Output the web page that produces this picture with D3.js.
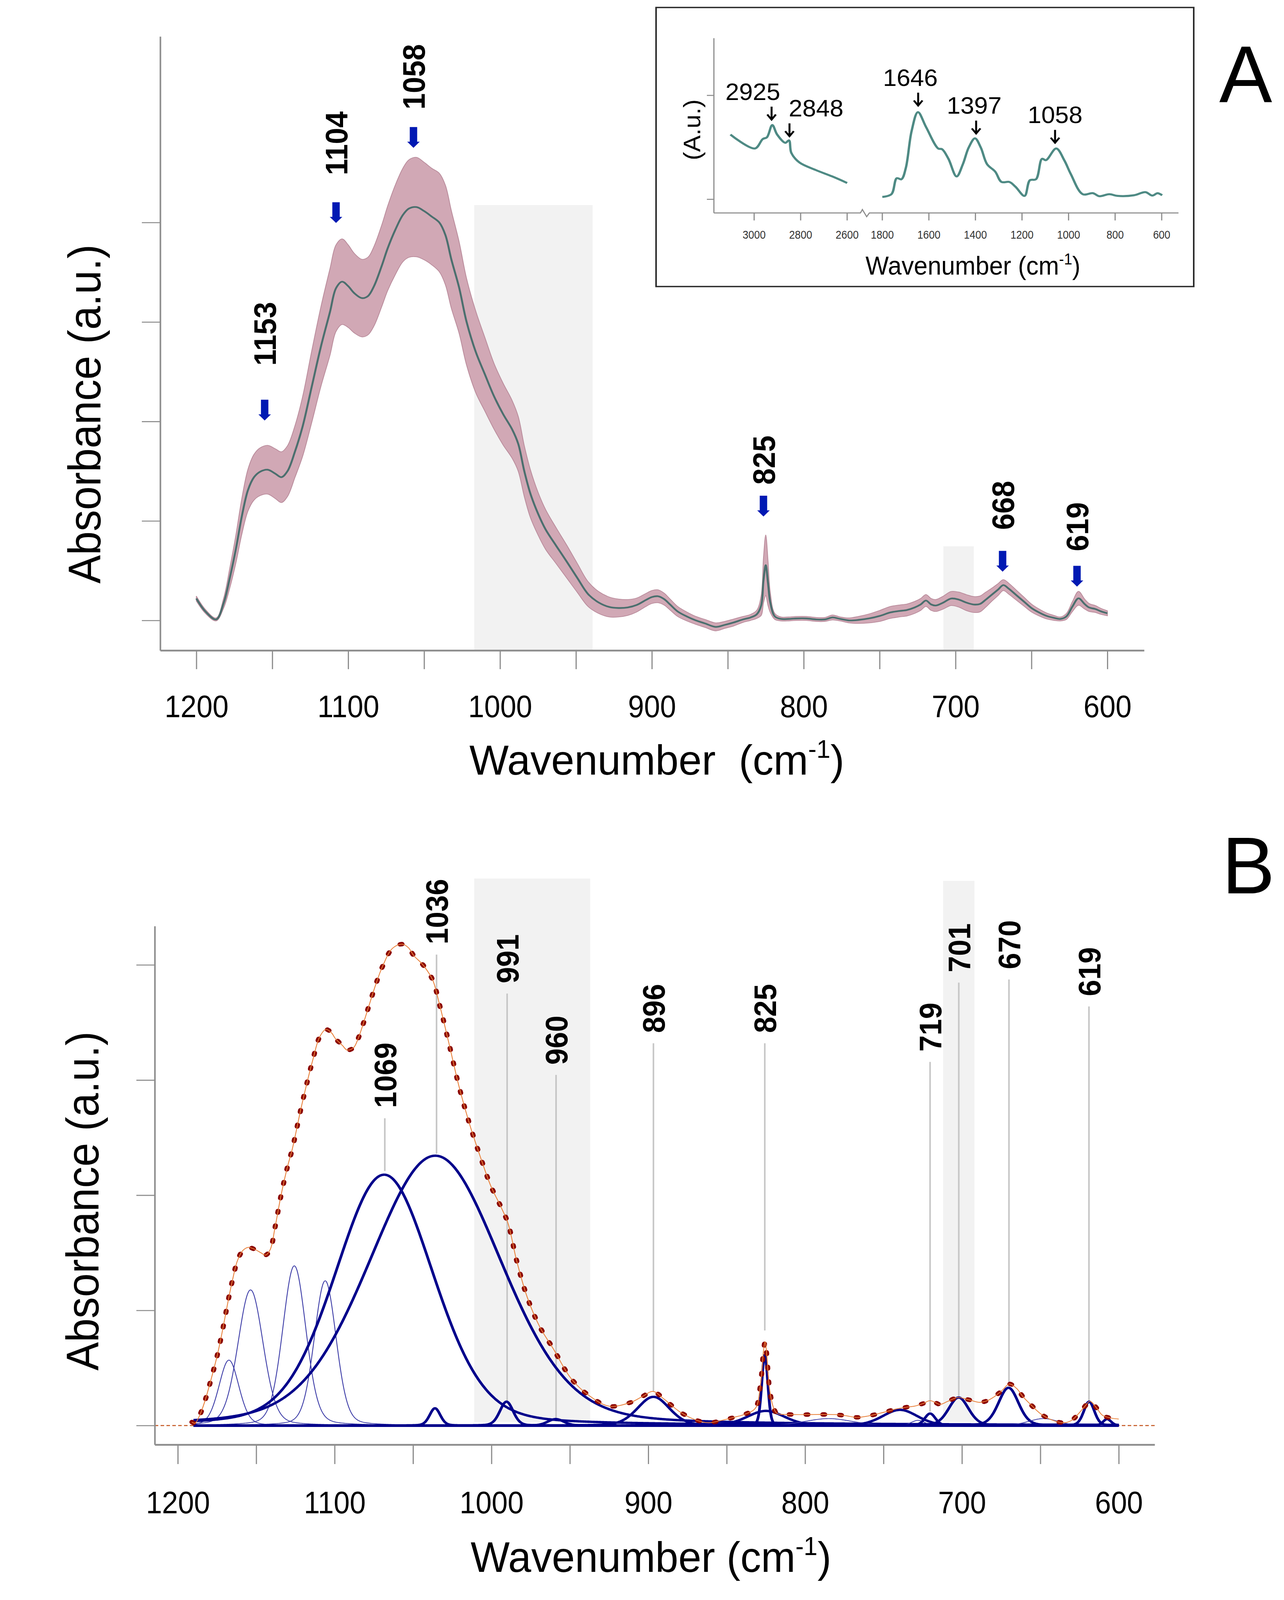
<!DOCTYPE html>
<html>
<head>
<meta charset="utf-8">
<script src="https://cdn.jsdelivr.net/npm/d3@7"></script>
<style>
  html, body { margin: 0; padding: 0; background: #fff; overflow: hidden; }
  svg { display: block; width: 100vw; height: 100vh; }
  svg text { font-family: "Liberation Sans", Arial, Helvetica, sans-serif; }
</style>
</head>
<body>
<svg id="fig" viewBox="0 0 3286 4696" preserveAspectRatio="none"></svg>
<script>
// ---------- panel A : mean spectrum with spread ----------
const waveA = [1200, 1194, 1187, 1182, 1178, 1174, 1170, 1166, 1162, 1158,
  1153, 1148, 1144, 1140, 1135, 1130, 1124, 1118, 1112, 1108,
  1104, 1100, 1096, 1091, 1087, 1083, 1078, 1074, 1069, 1064,
  1060, 1055, 1050, 1045, 1040, 1036, 1032, 1027, 1022, 1016,
  1010, 1004, 998, 992, 988, 984, 980, 975, 970, 963,
  956, 949, 942, 935, 928, 922, 916, 910, 904, 900,
  896, 892, 888, 883, 877, 871, 865, 858, 852, 846,
  840, 835, 831, 828, 826.5, 825, 823.5, 822, 819, 815,
  810, 805, 798, 792, 786, 781, 776, 770, 764, 757,
  750, 743, 737, 732, 727, 723, 719.5, 716, 713, 708,
  703, 698, 693, 688, 684, 680, 676, 672, 668.5, 665,
  660, 655, 650, 645, 640, 635, 631, 627, 623, 619,
  615, 612, 608, 604, 600];
const meanA = [0.044, 0.018, 0.002, 0.035, 0.085, 0.143, 0.21, 0.262, 0.288, 0.299,
  0.303, 0.295, 0.288, 0.30, 0.34, 0.39, 0.47, 0.55, 0.62, 0.668,
  0.681, 0.672, 0.658, 0.648, 0.652, 0.672, 0.712, 0.748, 0.785, 0.815,
  0.828, 0.831, 0.823, 0.812, 0.80, 0.775, 0.725, 0.67, 0.60, 0.54,
  0.495, 0.451, 0.415, 0.384, 0.355, 0.30, 0.255, 0.215, 0.183, 0.15,
  0.118, 0.085, 0.053, 0.036, 0.027, 0.025, 0.026, 0.031, 0.041, 0.047,
  0.0486, 0.043, 0.032, 0.018, 0.008, 0.0, -0.006, -0.013, -0.009, -0.004,
  0.002, 0.006, 0.012, 0.03, 0.08, 0.111, 0.075, 0.036, 0.008, 0.003,
  0.003, 0.004, 0.004, 0.002, 0.002, 0.006, 0.003, 0.0, 0.001, 0.004,
  0.009, 0.016, 0.019, 0.021, 0.026, 0.032, 0.04, 0.032, 0.03, 0.036,
  0.044, 0.042, 0.036, 0.032, 0.033, 0.042, 0.052, 0.062, 0.071, 0.064,
  0.051, 0.038, 0.025, 0.016, 0.009, 0.005, 0.003, 0.008, 0.028, 0.0445,
  0.033, 0.026, 0.023, 0.018, 0.0144];
const spreadA = [0.005, 0.004, 0.003, 0.01, 0.02, 0.028, 0.036, 0.042, 0.046, 0.048,
  0.049, 0.05, 0.051, 0.051, 0.052, 0.06, 0.072, 0.08, 0.087, 0.087,
  0.086, 0.083, 0.08, 0.078, 0.078, 0.08, 0.082, 0.085, 0.09, 0.094,
  0.098, 0.1, 0.098, 0.097, 0.099, 0.1, 0.098, 0.092, 0.087, 0.082,
  0.074, 0.066, 0.062, 0.058, 0.055, 0.051, 0.048, 0.043, 0.04, 0.036,
  0.033, 0.029, 0.025, 0.022, 0.02, 0.018, 0.016, 0.014, 0.013, 0.013,
  0.013, 0.012, 0.011, 0.01, 0.009, 0.008, 0.008, 0.008, 0.007, 0.007,
  0.006, 0.006, 0.008, 0.02, 0.045, 0.061, 0.045, 0.02, 0.006, 0.004,
  0.004, 0.004, 0.004, 0.004, 0.004, 0.005, 0.004, 0.005, 0.007, 0.009,
  0.011, 0.012, 0.012, 0.012, 0.012, 0.012, 0.012, 0.012, 0.012, 0.013,
  0.014, 0.015, 0.016, 0.016, 0.016, 0.015, 0.013, 0.012, 0.011, 0.011,
  0.01, 0.009, 0.008, 0.007, 0.006, 0.005, 0.004, 0.006, 0.01, 0.014,
  0.01, 0.008, 0.007, 0.006, 0.005];

const peakLabelA = ["1153", "1104", "1058", "825", "668", "619"];
const peakWaveA  = [1155, 1108, 1057, 826.5, 669, 620];
const arrowTipA  = [0.402, 0.799, 0.95, 0.209, 0.098, 0.068];
const labelBaseA = [0.512, 0.895, 1.027, 0.273, 0.182, 0.139];

const shadeFrom = [1017, 708];
const shadeTo   = [939, 688];
const shadeTopA = [0.835, 0.149];
const shadeFromB = [1011, 712];
const shadeToB   = [937, 692];
const shadeTopB  = [4.75, 4.73];

const tickWaves = d3.range(600, 1201, 50);
const tickLevelsA = [0, 0.2, 0.4, 0.6, 0.8];
const tickLevelsB = [0, 1, 2, 3, 4];

// ---------- inset : full range spectrum ----------
const insetHiWave = [3102, 2997, 2963, 2945, 2922, 2901, 2866, 2850, 2840, 2805, 2735, 2664, 2600];
const insetHiVal  = [0.623, 0.489, 0.58, 0.597, 0.715, 0.623, 0.544, 0.567, 0.446, 0.354, 0.282, 0.22, 0.157];
const insetLoWave = [1800, 1761, 1738, 1718, 1699, 1674, 1647, 1612, 1560, 1543,
  1516, 1481, 1454, 1429, 1402, 1377, 1350, 1315, 1288, 1254,
  1228, 1189, 1166, 1140, 1114, 1097, 1053, 1018, 991, 939,
  895, 868, 825, 790, 719, 670, 640, 618, 598];
const insetLoVal  = [0.023, 0.049, 0.203, 0.193, 0.302, 0.659, 0.839, 0.695, 0.489, 0.482,
  0.39, 0.22, 0.338, 0.498, 0.587, 0.498, 0.338, 0.266, 0.167, 0.167,
  0.121, 0.033, 0.184, 0.193, 0.39, 0.377, 0.489, 0.374, 0.246, 0.049,
  0.059, 0.03, 0.049, 0.033, 0.039, 0.069, 0.036, 0.059, 0.039];
const insetPeakWave = [2925, 2848, 1646, 1397, 1058];
const insetArrowEnd = [0.767, 0.607, 0.902, 0.633, 0.544];
const insetLabelShift = [-48, 68, -20, -5, 0];
const insetTicksHi = [3000, 2800, 2600];
const insetTicksLo = [1800, 1600, 1400, 1200, 1000, 800, 600];

// ---------- panel B : band fitting ----------
const waveB = [1191, 1189, 1186, 1183, 1179, 1175, 1172, 1167.5, 1165, 1162,
  1158.5, 1155, 1151, 1147, 1144, 1141, 1138, 1134, 1130, 1127,
  1121, 1114, 1109.5, 1105.5, 1102, 1099.5, 1095, 1092, 1088, 1085,
  1081, 1078, 1074, 1069.5, 1063, 1057, 1053, 1049.5, 1045, 1042.8,
  1037.5, 1033, 1027.3, 1020.6, 1014, 1007, 1000.4, 994, 989.4, 984,
  977.2, 969.3, 960.5, 949.3, 938, 925, 911.4, 904, 897, 890,
  880, 870, 861.6, 853, 845.4, 838, 831.7, 828.5, 826.5, 825.5,
  824.5, 822.5, 820, 817.8, 810, 800, 790, 781, 774, 767,
  760, 753, 747, 741.7, 735, 730.3, 725, 720.3, 717, 714,
  709, 702.6, 696, 688.7, 684, 679.5, 674, 669.8, 665, 661,
  656, 650, 643, 634.6, 630, 626.6, 622, 618.4, 614, 610.4,
  605, 600];
const envB = [0.03, 0.02, 0.09, 0.2, 0.39, 0.6, 0.79, 1.11, 1.27, 1.43,
  1.52, 1.547, 1.53, 1.5, 1.48, 1.53, 1.72, 2.01, 2.25, 2.40,
  2.78, 3.17, 3.375, 3.44, 3.41, 3.36, 3.3, 3.26, 3.28, 3.36,
  3.52, 3.65, 3.82, 3.985, 4.145, 4.18, 4.15, 4.08, 4.02, 3.985,
  3.87, 3.65, 3.33, 2.94, 2.62, 2.33, 2.08, 1.90, 1.755, 1.435,
  1.115, 0.86, 0.665, 0.41, 0.263, 0.168, 0.20, 0.25, 0.296, 0.23,
  0.12, 0.05, 0.024, 0.045, 0.071, 0.1, 0.15, 0.35, 0.65, 0.728,
  0.62, 0.3, 0.15, 0.104, 0.096, 0.095, 0.096, 0.095, 0.085, 0.071,
  0.082, 0.104, 0.125, 0.145, 0.16, 0.168, 0.19, 0.216, 0.2, 0.183,
  0.21, 0.243, 0.225, 0.201, 0.215, 0.249, 0.31, 0.361, 0.32, 0.249,
  0.18, 0.104, 0.05, 0.024, 0.045, 0.089, 0.16, 0.21, 0.15, 0.089,
  0.065, 0.056];

// fitted bands: centre, height, full width at half maximum
const bandCenter = [1167.4, 1153.6, 1125.7, 1106, 1068.4, 1035.8, 1036, 990.4, 959, 896.7,
  825.7, 825, 785, 739.5, 728, 720.3, 702.1, 670.3, 648, 618.9, 607.4];
const bandHeight = [0.568, 1.178, 1.387, 1.257, 2.178, 2.343, 0.15, 0.207, 0.056, 0.249,
  0.618, 0.127, 0.06, 0.136, 0.045, 0.104, 0.243, 0.328, 0.06, 0.207, 0.056];
const bandFwhm   = [15, 19, 17.5, 16.5, 74, 100, 8, 10, 12, 24,
  4.5, 28, 35, 26, 10, 8, 15, 15, 22, 8, 6];
const bandFine   = [true, true, true, true, false, false, false, false, false, false,
  false, false, true, false, true, false, false, false, true, false, false];
const LORENTZ_MIX = 0.2;

const peakLabelB = ["1069", "1036", "991", "960", "896", "825", "719", "701", "670", "619"];
const peakWaveB  = [1068, 1035, 990, 958.8, 896.7, 825.7, 720.3, 702, 670, 619];
const labelBaseB = [2.757, 4.178, 3.84, 3.133, 3.408, 3.408, 3.246, 3.935, 3.962, 3.728];
const leaderEndB = [2.21, 2.36, 0.216, 0.056, 0.296, 0.825, 0.12, 0.25, 0.376, 0.216];

// ---------------------------------------------------------------
const svg = d3.select("#fig");
const AXIS_GREY = "#8c8c8c";

function addText(g, x, y, str, o) {
  return g.append("text")
    .attr("transform", `translate(${x},${y}) rotate(${o.rotate || 0}) scale(${o.sx || 1},1)`)
    .attr("text-anchor", o.anchor || "middle")
    .attr("dy", o.dy || 0)
    .attr("font-size", o.size)
    .attr("font-weight", o.weight || "normal")
    .attr("fill", o.fill || "#000")
    .text(str);
}

function waveTitle(g, x, y, size, sx, gap) {
  const t = g.append("text")
    .attr("transform", `translate(${x},${y}) scale(${sx},1)`)
    .attr("text-anchor", "middle")
    .attr("font-size", size)
    .style("white-space", "pre");
  t.append("tspan").text("Wavenumber" + gap + "(cm");
  t.append("tspan").attr("font-size", size * 0.6).attr("dy", -size * 0.4).text("-1");
  t.append("tspan").attr("dy", size * 0.4).text(")");
}

function bottomAxis(g, x, y0, size, pad, fontSize) {
  const ax = g.append("g")
    .attr("transform", `translate(0,${y0})`)
    .call(d3.axisBottom(x).tickValues(tickWaves)
      .tickFormat(d => d % 100 === 0 ? d : "")
      .tickSize(size).tickSizeOuter(0).tickPadding(pad));
  ax.select(".domain").attr("stroke", AXIS_GREY).attr("stroke-width", 5);
  ax.selectAll(".tick line").attr("stroke", AXIS_GREY).attr("stroke-width", 3);
  ax.selectAll(".tick text")
    .attr("font-size", fontSize).attr("fill", "#000")
    .attr("transform", "scale(0.8,1)");
  ax.attr("font-family", null).attr("font-size", null);
}

function leftAxis(g, y, x0, levels) {
  const ax = g.append("g")
    .attr("transform", `translate(${x0},0)`)
    .call(d3.axisLeft(y).tickValues(levels).tickFormat("").tickSize(47).tickSizeOuter(0));
  ax.select(".domain").attr("stroke", AXIS_GREY).attr("stroke-width", 4);
  ax.selectAll(".tick line").attr("stroke", AXIS_GREY).attr("stroke-width", 3);
}

// ================= panel A =================
const xA = d3.scaleLinear().domain([1223.8, 575.8]).range([410, 2928]);
const yA = d3.scaleLinear().domain([-0.0603, 1.174]).range([1909, 107]);
const gA = svg.append("g");

gA.selectAll("rect.shade").data(shadeFrom).join("rect")
  .attr("x", d => xA(d))
  .attr("width", (d, i) => xA(shadeTo[i]) - xA(d))
  .attr("y", (d, i) => yA(shadeTopA[i]))
  .attr("height", (d, i) => yA.range()[0] - yA(shadeTopA[i]))
  .attr("fill", "#f2f2f2");

const specA = waveA.map((w, i) => ({ w, m: meanA[i], s: spreadA[i] }));
gA.append("path").datum(specA)
  .attr("d", d3.area().curve(d3.curveCatmullRom.alpha(0.5))
    .x(d => xA(d.w)).y0(d => yA(d.m - d.s)).y1(d => yA(d.m + d.s)))
  .attr("fill", "#d1a8b5").attr("stroke", "#b98b9b").attr("stroke-width", 2);
gA.append("path").datum(specA)
  .attr("d", d3.line().curve(d3.curveCatmullRom.alpha(0.5)).x(d => xA(d.w)).y(d => yA(d.m)))
  .attr("fill", "none").attr("stroke", "#4b6f6e").attr("stroke-width", 5);

bottomAxis(gA, xA, 1909, 55, 76, 92);
leftAxis(gA, yA, 410, tickLevelsA);

// blue arrows and rotated labels
peakWaveA.forEach((w, i) => {
  const x = xA(w), tip = yA(arrowTipA[i]);
  gA.append("path")
    .attr("d", "M0,0 L-16,-18 L-9.5,-18 L-9.5,-61 L9.5,-61 L9.5,-18 L16,-18 Z")
    .attr("transform", `translate(${x},${tip})`)
    .attr("fill", "#0019b3");
  addText(gA, x, yA(labelBaseA[i]), peakLabelA[i],
    { rotate: -90, sx: 1.08, anchor: "start", dy: "0.36em", size: 80, weight: "bold" });
});

waveTitle(gA, 1681, 2274, 124, 0.86, "  ");
addText(gA, 215, 1215, "Absorbance (a.u.)", { rotate: -90, sx: 1.08, dy: "0.36em", size: 116 });
addText(gA, 3188, 300, "A", { size: 236, sx: 0.86 });

// ================= inset =================
const gI = svg.append("g");
gI.append("rect").attr("x", 1679).attr("y", 22).attr("width", 1376).attr("height", 819)
  .attr("fill", "#fff").attr("stroke", "#2b2b2b").attr("stroke-width", 4);

const iHi = d3.scaleLinear().domain([3000, 2600]).range([1930, 2168]);
const iLo = d3.scaleLinear().domain([1800, 600]).range([2258, 2973]);
const iY = d3.scaleLinear().domain([0, 1]).range([585, 280]);
const iBase = 625;

gI.append("line").attr("x1", 1827).attr("x2", 1827).attr("y1", 112).attr("y2", iBase)
  .attr("stroke", AXIS_GREY).attr("stroke-width", 3);
gI.selectAll("line.ytick").data([0, 1]).join("line")
  .attr("x1", 1809).attr("x2", 1827).attr("y1", d => iY(d)).attr("y2", d => iY(d))
  .attr("stroke", AXIS_GREY).attr("stroke-width", 3);
gI.append("path")
  .attr("d", `M1827,${iBase} H2202 L2207,${iBase - 10} L2218,${iBase + 11} L2225,${iBase} H3016`)
  .attr("fill", "none").attr("stroke", AXIS_GREY).attr("stroke-width", 3);

const insetTicks = insetTicksHi.map(v => ({ v, x: iHi(v) }))
  .concat(insetTicksLo.map(v => ({ v, x: iLo(v) })));
gI.selectAll("line.xtick").data(insetTicks).join("line")
  .attr("x1", d => d.x).attr("x2", d => d.x).attr("y1", iBase).attr("y2", iBase + 22)
  .attr("stroke", AXIS_GREY).attr("stroke-width", 3);
insetTicks.forEach(d => addText(gI, d.x, 700, String(d.v), { size: 34, sx: 0.78, fill: "#333" }));

const insetLine = d3.line().curve(d3.curveCatmullRom.alpha(0.5));
gI.append("path")
  .attr("d", insetLine(insetHiWave.map((w, i) => [iHi(w), iY(insetHiVal[i])])))
  .attr("fill", "none").attr("stroke", "#4e8a84").attr("stroke-width", 6).attr("stroke-linejoin", "round");
gI.append("path")
  .attr("d", insetLine(insetLoWave.map((w, i) => [iLo(w), iY(insetLoVal[i])])))
  .attr("fill", "none").attr("stroke", "#4e8a84").attr("stroke-width", 6).attr("stroke-linejoin", "round");

insetPeakWave.forEach((w, i) => {
  const x = w > 2000 ? iHi(w) : iLo(w);
  const end = iY(insetArrowEnd[i]);
  gI.append("path")
    .attr("d", `M${x},${end - 38} V${end} M${x - 11},${end - 15} L${x},${end} L${x + 11},${end - 15}`)
    .attr("fill", "none").attr("stroke", "#000").attr("stroke-width", 5);
  addText(gI, x + insetLabelShift[i], end - 58, String(w), { size: 70, sx: 0.9 });
});

waveTitle(gI, 2490, 806, 76, 0.83, " ");
addText(gI, 1770, 381, "(A.u.)", { rotate: -90, sx: 1.18, dy: "0.36em", size: 62 });

// ================= panel B =================
const xB = d3.scaleLinear().domain([1214.7, 577.1]).range([396, 2955]);
const yB = d3.scaleLinear().domain([-0.166, 4.337]).range([4240, 2718]);
const gB = svg.append("g");

gB.selectAll("rect.shade").data(shadeFromB).join("rect")
  .attr("x", d => xB(d))
  .attr("width", (d, i) => xB(shadeToB[i]) - xB(d))
  .attr("y", (d, i) => yB(shadeTopB[i]))
  .attr("height", (d, i) => yB(0.03) - yB(shadeTopB[i]))
  .attr("fill", "#f2f2f2");

// leader lines
peakWaveB.forEach((w, i) => {
  gB.append("line")
    .attr("x1", xB(w)).attr("x2", xB(w))
    .attr("y1", yB(labelBaseB[i]) + 30).attr("y2", yB(leaderEndB[i]))
    .attr("stroke", "#c6c6c6").attr("stroke-width", 4);
});

// dashed zero line
gB.append("line")
  .attr("x1", xB.range()[0]).attr("x2", xB.range()[1]).attr("y1", yB(0)).attr("y2", yB(0))
  .attr("stroke", "#c8602e").attr("stroke-width", 3).attr("stroke-dasharray", "9 6");

function bandShape(x, c, h, fwhm) {
  const t = (x - c) / (fwhm / 2);
  return h * ((1 - LORENTZ_MIX) * Math.exp(-Math.LN2 * t * t) + LORENTZ_MIX / (1 + t * t));
}
const grid = d3.range(1190, 599.9, -0.5);
const bandLine = d3.line().x(d => xB(d[0])).y(d => yB(d[1]));
bandCenter.forEach((c, i) => {
  const pts = grid.map(x => [x, bandShape(x, c, bandHeight[i], bandFwhm[i])]);
  gB.append("path").attr("d", bandLine(pts))
    .attr("fill", "none")
    .attr("stroke", bandFine[i] ? "#3a3aa6" : "#00008b")
    .attr("stroke-width", bandFine[i] ? 2.2 : 7)
    .attr("stroke-linejoin", "round");
});

// envelope: dark red dots with a thin orange fit line
const envLine = d3.line().curve(d3.curveCatmullRom.alpha(0.5))
  .x((d, i) => xB(waveB[i])).y(d => yB(d));
gB.append("path").datum(envB).attr("d", envLine)
  .attr("fill", "none").attr("stroke", "#8b0000").attr("stroke-width", 13)
  .attr("stroke-linecap", "round").attr("stroke-dasharray", "5 38");
gB.append("path").datum(envB).attr("d", envLine)
  .attr("fill", "none").attr("stroke", "#e8803a").attr("stroke-width", 2.2);

bottomAxis(gB, xB, 4240, 57, 79, 92);
leftAxis(gB, yB, 396, tickLevelsB);

peakWaveB.forEach((w, i) => {
  addText(gB, xB(w), yB(labelBaseB[i]), peakLabelB[i],
    { rotate: -90, sx: 1.08, anchor: "start", dy: "0.36em", size: 80, weight: "bold" });
});

waveTitle(gB, 1666, 4614, 126, 0.84, " ");
addText(gB, 210, 3525, "Absorbance (a.u.)", { rotate: -90, sx: 1.08, dy: "0.36em", size: 116 });
addText(gB, 3195, 2622, "B", { size: 236, sx: 0.86 });
</script>
</body>
</html>
